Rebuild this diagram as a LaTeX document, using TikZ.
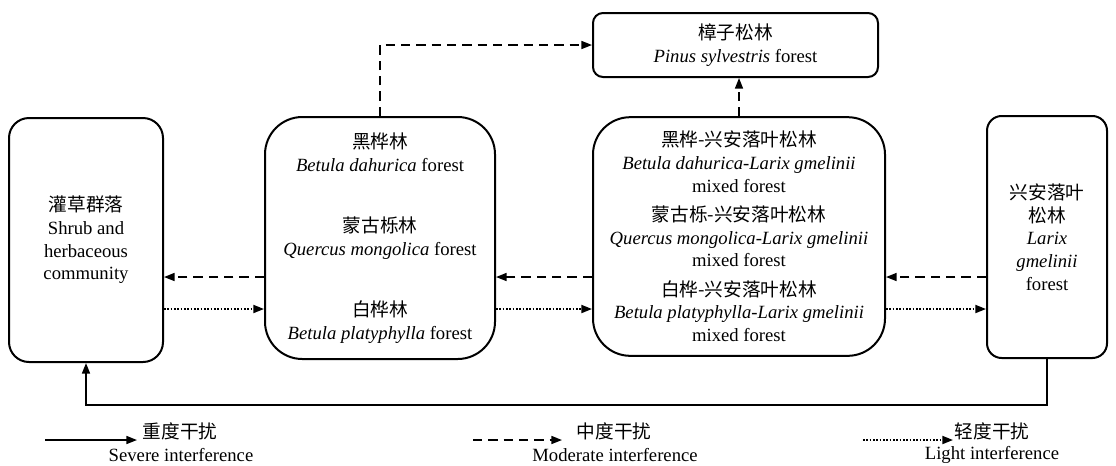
\documentclass[tikz,border=0pt]{standalone}
\usepackage{fontspec}
\setmainfont{Liberation Serif}
\newfontfamily\cjk{Noto Sans CJK SC}
\usetikzlibrary{arrows.meta}
\newcommand{\zh}[1]{{\cjk #1}}

\tikzset{
  box/.style={draw, line width=1.5pt, align=center, inner sep=2pt},
  lbl/.style={inner sep=0pt},
  link/.style={line width=1.2pt, -{Triangle[length=8pt,width=6pt]}},
  severe/.style={link},
  moderate/.style={link, dash pattern=on 7pt off 4.5pt},
  light/.style={link, line width=1.4pt, dash pattern=on 1.3pt off 1.2pt},
}

\begin{document}
\begin{tikzpicture}[x=0.75pt, y=-0.75pt, every node/.style={font=\fontsize{14pt}{17pt}\selectfont}]
\useasboundingbox (0,0) rectangle (1116,465);
% community boxes
\node[box, rounded corners=15pt, minimum width=115.5pt, minimum height=183pt] (shrub) at (86,240)
  {\zh{灌草群落}\\Shrub and\\herbaceous\\community};
\node[box, rounded corners=28pt, minimum width=172.5pt, minimum height=181.5pt] (betula) at (380,238)
  {\zh{黑桦林}\\\textit{Betula dahurica} forest\\[29pt]
   \zh{蒙古栎林}\\\textit{Quercus mongolica} forest\\[29pt]
   \zh{白桦林}\\\textit{Betula platyphylla} forest};
\node[box, rounded corners=28pt, minimum width=219pt, minimum height=179pt] (mixed) at (739,236.5)
  {\zh{黑桦-兴安落叶松林}\\\textit{Betula dahurica-Larix gmelinii}\\mixed forest\\[5pt]
   \zh{蒙古栎-兴安落叶松林}\\\textit{Quercus mongolica-Larix gmelinii}\\mixed forest\\[5pt]
   \zh{白桦-兴安落叶松林}\\\textit{Betula platyphylla-Larix gmelinii}\\mixed forest};
\node[box, rounded corners=11pt, minimum width=90pt, minimum height=181.5pt] (larix) at (1047,237)
  {\zh{兴安落叶}\\\zh{松林}\\\textit{Larix}\\\textit{gmelinii}\\forest};
\node[box, rounded corners=7.5pt, minimum width=213.75pt, minimum height=48pt] (pinus) at (735.5,45)
  {\zh{樟子松林}\\\textit{Pinus sylvestris} forest};

% levels of the two side arrows
\coordinate (ym) at (0,277);
\coordinate (yl) at (0,309);

% succession under disturbance
\draw[moderate] (betula.north) |- (pinus.west);
\draw[moderate] (mixed.north) -- (mixed.north |- pinus.south);
\draw[moderate] (betula.west |- ym) -- (shrub.east |- ym);
\draw[light] (shrub.east |- yl) -- (betula.west |- yl);
\draw[moderate] (mixed.west |- ym) -- (betula.east |- ym);
\draw[light] (betula.east |- yl) -- (mixed.west |- yl);
\draw[moderate] (larix.west |- ym) -- (mixed.east |- ym);
\draw[light] (mixed.east |- yl) -- (larix.west |- yl);
\draw[severe] (larix.south) -- (larix.south |- 0,405) -| (shrub.south);

% legend
\coordinate (sevA) at (45,440);
\coordinate (sevB) at (137,440);
\coordinate (modA) at (473,440);
\coordinate (modB) at (562,440);
\coordinate (ligA) at (863,440);
\coordinate (ligB) at (953,440);
\draw[severe] (sevA) -- (sevB);
\draw[moderate] (modA) -- (modB);
\draw[light] (ligA) -- (ligB);
\node[lbl] (sevzh) at (180,431) {\zh{重度干扰}};
\node[lbl] (seven) at (181,455) {Severe interference};
\node[lbl] (modzh) at (614,431) {\zh{中度干扰}};
\node[lbl] (moden) at (615,455) {Moderate interference};
\node[lbl] (ligzh) at (992,431) {\zh{轻度干扰}};
\node[lbl] (ligen) at (992,455) {Light interference};
\end{tikzpicture}
\end{document}
